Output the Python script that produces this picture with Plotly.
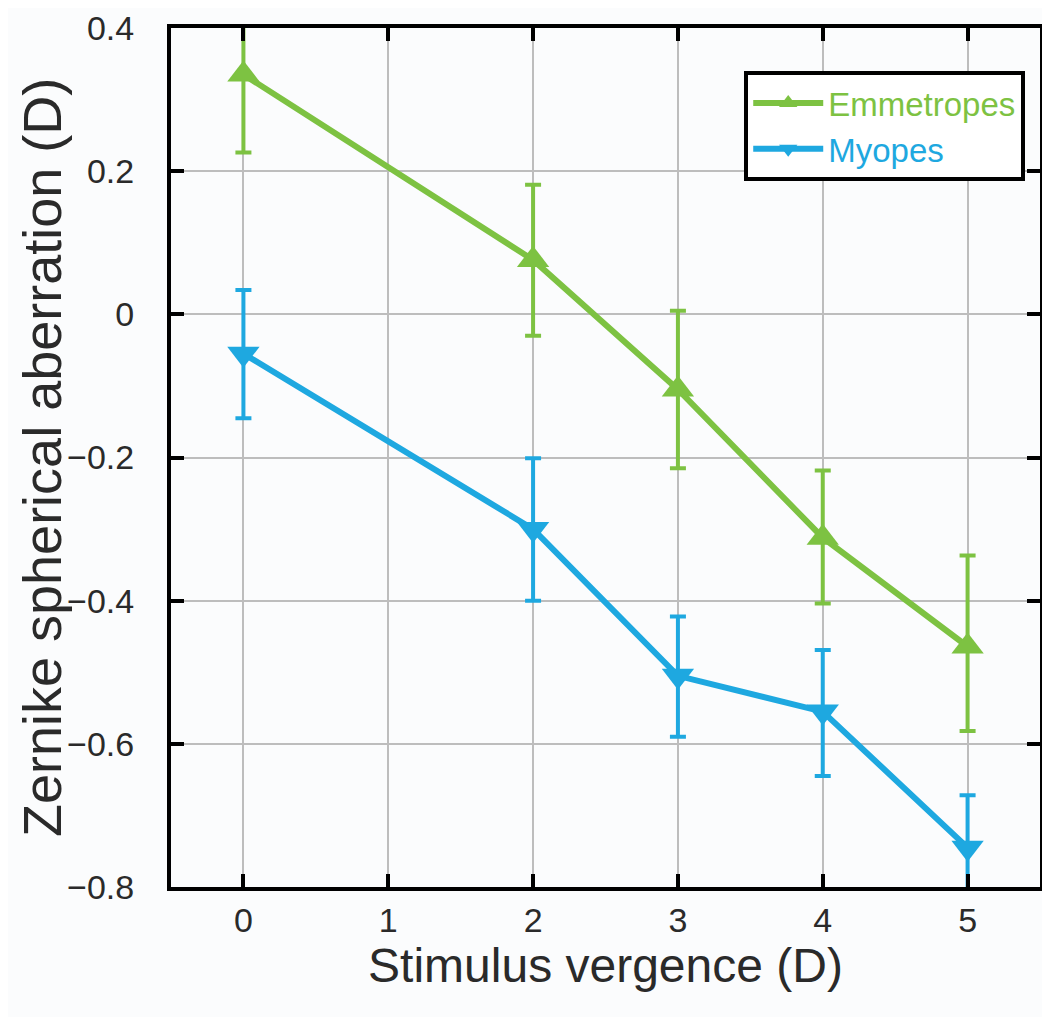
import plotly.graph_objects as go

vergence = [0, 2, 3, 4, 5]
emm_mean = [0.335, 0.076, -0.105, -0.312, -0.464]
emm_upper = [0.420, 0.181, 0.005, -0.218, -0.337]
emm_lower = [0.226, -0.030, -0.215, -0.404, -0.582]
myo_mean = [-0.055, -0.300, -0.505, -0.555, -0.745]
myo_upper = [0.034, -0.201, -0.422, -0.469, -0.672]
myo_lower = [-0.145, -0.400, -0.590, -0.645, -0.830]
x_ticks = [0, 1, 2, 3, 4, 5]
y_ticks = [0.4, 0.2, 0, -0.2, -0.4, -0.6, -0.8]
y_tick_labels = ["0.4", "0.2", "0", "\u22120.2", "\u22120.4", "\u22120.6", "\u22120.8"]
x_title = "Stimulus vergence (D)"
y_title = "Zernike spherical aberration (D)"

GREEN = "#7dc242"
BLUE = "#1ea8e0"

def trace(name, mean, upper, lower, color, symbol):
    return go.Scatter(
        x=vergence, y=mean, name=f"<span style='color:{color}'>{name}</span>",
        mode="lines+markers",
        line=dict(color=color, width=6),
        marker=dict(symbol=symbol, size=28, color=color),
        error_y=dict(type="data", symmetric=False,
                     array=[u - m for u, m in zip(upper, mean)],
                     arrayminus=[m - l for m, l in zip(mean, lower)],
                     color=color, thickness=4, width=8),
    )

fig = go.Figure()
fig.add_trace(trace("Emmetropes", emm_mean, emm_upper, emm_lower, GREEN, "triangle-up"))
fig.add_trace(trace("Myopes", myo_mean, myo_upper, myo_lower, BLUE, "triangle-down"))

axis_common = dict(
    showline=True, linecolor="black", linewidth=4, mirror="ticks",
    ticks="inside", ticklen=13, tickwidth=4, tickcolor="black",
    showgrid=True, gridcolor="#bdbdbd", gridwidth=1.5, zeroline=False,
    tickfont=dict(size=34, color="#2a2a2a"),
    automargin=False, ticklabeloverflow="allow",
)

fig.update_layout(
    width=1050, height=1017,
    margin=dict(l=163, r=18, t=20, b=138),
    paper_bgcolor="#fbfcfd", plot_bgcolor="#fbfcfd",
    font=dict(family="Liberation Sans, Arial, sans-serif", color="#2a2a2a"),
    xaxis=dict(range=[-0.5, 5.5], tickvals=x_ticks,
               title=dict(text=x_title, font=dict(size=48), standoff=10),
               **axis_common),
    yaxis=dict(range=[-0.8, 0.4], tickvals=y_ticks, ticktext=y_tick_labels,
               ticklabelstandoff=26,
               **axis_common),
    legend=dict(x=0.983, y=0.95, xanchor="right", yanchor="top",
                bgcolor="white", bordercolor="black", borderwidth=4,
                font=dict(size=33), tracegroupgap=0, itemwidth=70),
    showlegend=True,
)
fig.add_annotation(text=y_title, xref="paper", yref="paper", x=-0.149, y=0.5,
                   xanchor="center", yanchor="middle", textangle=-90,
                   showarrow=False, font=dict(size=54, color="#2a2a2a"))

fig.write_html("out.html")
